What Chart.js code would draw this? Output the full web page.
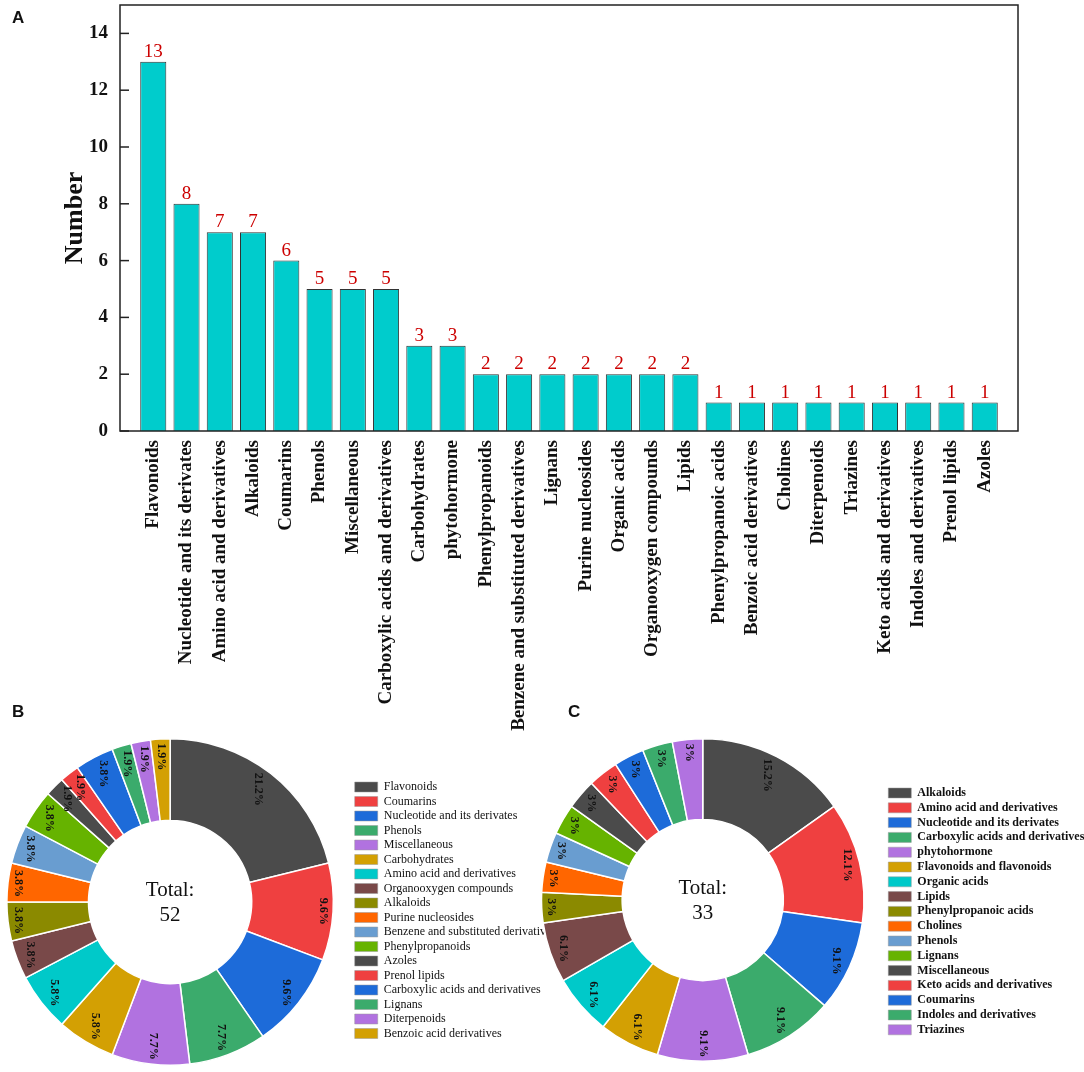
<!DOCTYPE html>
<html>
<head>
<meta charset="utf-8">
<script src="https://cdn.jsdelivr.net/npm/chart.js@4.4.1/dist/chart.umd.min.js"></script>
<style>
  body { margin: 0; background: #fff; }
  #wrap { position: relative; width: 1084px; height: 1072px; overflow: hidden; background: #fff; }
  canvas { position: absolute; }
  .tag { position: absolute; font: bold 17px "Liberation Sans", Arial, sans-serif; color: #111; }
</style>
</head>
<body>
<div id="wrap">
  <canvas id="bar" style="left:0;top:0;width:1084px;height:760px"></canvas>
  <canvas id="pieB" style="left:-12px;top:738px;width:582px;height:328px"></canvas>
  <canvas id="pieC" style="left:520px;top:738px;width:564px;height:324px"></canvas>
  <div class="tag" style="left:12px;top:8px">A</div>
  <div class="tag" style="left:12px;top:702px">B</div>
  <div class="tag" style="left:568px;top:702px">C</div>
</div>
<script>
// panel A - counts per class
var barCats = ["Flavonoids", "Nucleotide and its derivates", "Amino acid and derivatives", "Alkaloids",
  "Coumarins", "Phenols", "Miscellaneous", "Carboxylic acids and derivatives", "Carbohydrates",
  "phytohormone", "Phenylpropanoids", "Benzene and substituted derivatives", "Lignans",
  "Purine nucleosides", "Organic acids", "Organooxygen compounds", "Lipids", "Phenylpropanoic acids",
  "Benzoic acid derivatives", "Cholines", "Diterpenoids", "Triazines", "Keto acids and derivatives",
  "Indoles and derivatives", "Prenol lipids", "Azoles"];
var barVals = [13, 8, 7, 7, 6, 5, 5, 5, 3, 3, 2, 2, 2, 2, 2, 2, 2, 1, 1, 1, 1, 1, 1, 1, 1, 1];
var yMax = 15;
var yStep = 2;

// panel B
var pieBCats = ["Flavonoids", "Coumarins", "Nucleotide and its derivates", "Phenols", "Miscellaneous",
  "Carbohydrates", "Amino acid and derivatives", "Organooxygen compounds", "Alkaloids",
  "Purine nucleosides", "Benzene and substituted derivatives", "Phenylpropanoids", "Azoles",
  "Prenol lipids", "Carboxylic acids and derivatives", "Lignans", "Diterpenoids", "Benzoic acid derivatives"];
var pieBVals = [11, 5, 5, 4, 4, 3, 3, 2, 2, 2, 2, 2, 1, 1, 2, 1, 1, 1];

// panel C
var pieCCats = ["Alkaloids", "Amino acid and derivatives", "Nucleotide and its derivates",
  "Carboxylic acids and derivatives", "phytohormone", "Flavonoids and flavonoids", "Organic acids",
  "Lipids", "Phenylpropanoic acids", "Cholines", "Phenols", "Lignans", "Miscellaneous",
  "Keto acids and derivatives", "Coumarins", "Indoles and derivatives", "Triazines"];
var pieCVals = [5, 4, 3, 3, 3, 2, 2, 2, 1, 1, 1, 1, 1, 1, 1, 1, 1];

var palette = ['#4b4b4b', '#ef4040', '#1d6bd9', '#3bab6c', '#b172e0', '#d3a003',
  '#00c9c9', '#794949', '#8b8a00', '#ff6600', '#699dd0', '#66b300'];

var serif = '"Liberation Serif", "Times New Roman", serif';

function colorsFor(n) {
  var out = [];
  for (var i = 0; i < n; i++) out.push(palette[i % palette.length]);
  return out;
}

// frame, inner ticks and red numbers above the bars
var barExtras = {
  id: 'barExtras',
  afterDatasetsDraw: function(chart) {
    var ctx = chart.ctx, area = chart.chartArea, y = chart.scales.y;
    ctx.save();
    ctx.strokeStyle = '#222';
    ctx.lineWidth = 1.5;
    ctx.strokeRect(area.left, area.top, area.right - area.left, area.bottom - area.top);
    y.ticks.forEach(function(t) {
      var py = y.getPixelForValue(t.value);
      ctx.beginPath();
      ctx.moveTo(area.left, py);
      ctx.lineTo(area.left + 9, py);
      ctx.stroke();
    });
    ctx.fillStyle = '#cc0000';
    ctx.font = '19px ' + serif;
    ctx.textAlign = 'center';
    ctx.textBaseline = 'alphabetic';
    chart.getDatasetMeta(0).data.forEach(function(bar, i) {
      ctx.fillText(String(barVals[i]), bar.x, bar.y - 5);
    });
    ctx.restore();
  }
};

new Chart(document.getElementById('bar'), {
  type: 'bar',
  data: {
    datasets: [{
      data: barVals.map(function(v, i) { return {x: i, y: v}; }),
      backgroundColor: '#00cccc',
      borderColor: '#333',
      borderWidth: 1,
      categoryPercentage: 0.8,
      barPercentage: 0.98
    }]
  },
  options: {
    responsive: false,
    animation: false,
    layout: { padding: { top: 5, right: 66, left: 0, bottom: 0 } },
    plugins: { legend: { display: false }, tooltip: { enabled: false } },
    scales: {
      x: {
        type: 'linear',
        min: -1,
        max: barCats.length,
        offset: false,
        grid: { display: false, drawTicks: false },
        border: { display: false },
        afterBuildTicks: function(scale) {
          scale.ticks = barCats.map(function(c, i) { return {value: i}; });
        },
        afterFit: function(scale) {
          scale.height = 329;
          scale.paddingLeft = 0;
          scale.paddingRight = 0;
        },
        ticks: {
          autoSkip: false,
          minRotation: 90,
          maxRotation: 90,
          padding: 9,
          color: '#111',
          font: { family: serif, size: 19, weight: 'bold' },
          callback: function(v) { return barCats[v]; }
        }
      },
      y: {
        min: 0,
        max: yMax,
        grid: { display: false, drawTicks: false },
        border: { display: false },
        afterFit: function(scale) {
          scale.width = 120;
          scale.paddingTop = 0;
          scale.paddingBottom = 0;
        },
        ticks: {
          stepSize: yStep,
          includeBounds: false,
          padding: 12,
          color: '#111',
          font: { family: serif, size: 19, weight: 'bold' }
        },
        title: {
          display: true,
          text: 'Number',
          color: '#111',
          padding: { top: 60, bottom: 0 },
          font: { family: serif, size: 26, weight: 'bold' }
        }
      }
    }
  },
  plugins: [barExtras]
});

// percent labels turned a quarter turn, pushed to the outer rim, and the total in the hole
function doughnutText(total) {
  return {
    id: 'doughnutText',
    afterDatasetsDraw: function(chart) {
      var ctx = chart.ctx;
      var meta = chart.getDatasetMeta(0);
      var vals = chart.data.datasets[0].data;
      ctx.save();
      ctx.font = 'bold 12px ' + serif;
      ctx.fillStyle = '#111';
      ctx.textAlign = 'center';
      ctx.textBaseline = 'middle';
      meta.data.forEach(function(arc, i) {
        var p = arc.getProps(['x', 'y', 'startAngle', 'endAngle', 'outerRadius'], true);
        var a = (p.startAngle + p.endAngle) / 2;
        var txt = parseFloat((vals[i] / total * 100).toFixed(1)) + '%';
        var len = ctx.measureText(txt).width;
        var half = len / 2 * Math.abs(Math.sin(a)) + 5 * Math.abs(Math.cos(a));
        var r = p.outerRadius - 4 - half;
        ctx.save();
        ctx.translate(p.x + r * Math.cos(a), p.y + r * Math.sin(a));
        ctx.rotate(Math.PI / 2);
        ctx.fillText(txt, 0, 0);
        ctx.restore();
      });
      var c = meta.data[0];
      ctx.font = '21px ' + serif;
      ctx.fillStyle = '#111';
      ctx.fillText('Total:', c.x, c.y - 12);
      ctx.fillText(String(total), c.x, c.y + 13);
      ctx.restore();
    }
  };
}

function sum(arr) { return arr.reduce(function(s, v) { return s + v; }, 0); }

function makeDoughnut(id, cats, vals, padRight, legendWidth, legendTop, legendGap, fontSize, bold) {
  new Chart(document.getElementById(id), {
    type: 'doughnut',
    data: {
      labels: cats,
      datasets: [{
        data: vals,
        backgroundColor: colorsFor(vals.length),
        borderColor: '#fff',
        borderWidth: 1.5
      }]
    },
    options: {
      responsive: false,
      animation: false,
      cutout: '50%',
      layout: { padding: { right: padRight } },
      plugins: {
        tooltip: { enabled: false },
        legend: {
          position: 'right',
          align: 'start',
          maxWidth: legendWidth,
          title: { display: true, text: '', padding: { top: legendTop, bottom: 0 }, font: { size: 10 } },
          labels: {
            boxWidth: 23,
            boxHeight: 10,
            padding: legendGap,
            color: '#111',
            font: { family: serif, size: fontSize, weight: bold ? 'bold' : 'normal' },
            generateLabels: function(chart) {
              var items = Chart.overrides.doughnut.plugins.legend.labels.generateLabels(chart);
              items.forEach(function(it) { it.strokeStyle = '#999'; it.lineWidth = 0.5; });
              return items;
            }
          }
        }
      }
    },
    plugins: [doughnutText(sum(vals))]
  });
}

makeDoughnut('pieB', pieBCats, pieBVals, 4, 260, 28.5, 2.5, 12, false);
makeDoughnut('pieC', pieCCats, pieCVals, 0, 198.5, 34.2, 2.8, 12, true);
</script>
</body>
</html>
